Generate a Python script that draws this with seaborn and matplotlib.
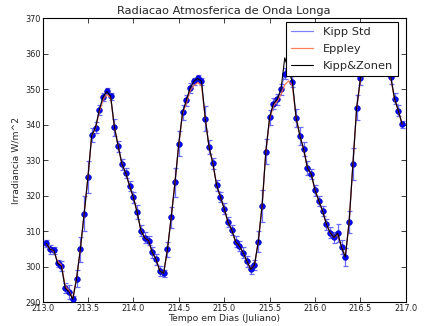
import numpy as np
import pandas as pd
import matplotlib
matplotlib.use("Agg")
import matplotlib.pyplot as plt
import seaborn as sns

# hourly samples (k = 1..95) from day 213
hours = list(range(1, 96))

kipp_std = [306.5, 304.8, 304.6, 300.9, 300.1, 293.9, 292.9, 290.8, 296.6, 304.9,
            314.9, 325.1, 337.0, 339.1, 344.1, 347.8, 349.5, 348.0, 339.2, 333.9,
            328.8, 326.3, 322.7, 319.5, 315.3, 310.1, 308.1, 307.3, 304.0, 302.0,
            298.7, 298.1, 304.8, 313.9, 323.7, 334.6, 343.4, 346.8, 350.3, 352.2,
            353.2, 352.2, 341.7, 333.6, 329.1, 322.9, 319.6, 316.3, 312.5, 310.3,
            307.0, 305.8, 303.9, 301.5, 299.2, 300.4, 307.0, 317.0, 332.4, 342.0,
            345.9, 347.1, 349.9, 354.3, 355.4, 352.1, 341.9, 336.8, 333.0, 327.7,
            326.1, 321.5, 318.5, 315.6, 311.9, 309.5, 308.2, 309.4, 305.4, 302.7,
            312.5, 328.8, 344.8, 353.0, 358.0, 361.5, 363.5, 364.0, 363.0, 361.0,
            357.5, 353.5, 347.3, 343.9, 340.1]

eppley = [306.3, 305.0, 304.2, 301.5, 300.4, 294.5, 293.2, 291.0, 296.8, 304.9,
          314.9, 325.1, 336.8, 338.9, 343.6, 347.0, 348.5, 347.5, 339.2, 333.9,
          328.8, 326.3, 322.7, 319.5, 315.3, 310.1, 308.1, 307.3, 304.0, 302.0,
          298.7, 298.1, 304.8, 313.9, 323.7, 334.4, 343.0, 346.0, 349.5, 351.0,
          351.8, 351.0, 341.7, 333.6, 329.1, 322.9, 319.6, 316.3, 312.5, 310.3,
          307.0, 305.8, 303.9, 301.5, 299.2, 300.4, 307.0, 317.0, 332.2, 341.5,
          345.2, 346.6, 348.5, 351.2, 352.3, 351.0, 341.9, 336.8, 333.0, 327.7,
          326.1, 321.5, 318.5, 315.6, 311.9, 309.5, 308.2, 309.0, 305.4, 302.9,
          312.5, 328.8, 344.6, 352.5, 357.5, 361.0, 363.0, 363.5, 362.5, 360.5,
          357.0, 353.0, 347.0, 343.9, 340.1]

kipp_zonen = [306.5, 304.8, 304.6, 300.9, 300.1, 293.9, 292.9, 290.8, 296.6, 304.9,
              314.9, 325.1, 337.0, 339.1, 344.1, 347.8, 349.3, 348.0, 339.2, 333.9,
              328.8, 326.3, 322.7, 319.5, 315.3, 310.1, 308.1, 307.3, 304.0, 302.0,
              298.7, 298.1, 304.8, 313.9, 323.7, 334.6, 343.4, 346.8, 350.3, 352.2,
              353.0, 352.2, 341.7, 333.6, 329.1, 322.9, 319.6, 316.3, 312.5, 310.3,
              307.0, 305.8, 303.9, 301.5, 299.2, 300.4, 307.0, 317.0, 332.4, 342.0,
              345.9, 347.1, 349.9, 358.8, 355.4, 352.1, 341.9, 336.8, 333.0, 327.7,
              326.1, 321.5, 318.5, 315.6, 311.9, 309.5, 308.2, 309.4, 305.4, 302.7,
              312.5, 328.8, 344.8, 353.0, 358.0, 361.5, 363.5, 364.0, 363.0, 361.0,
              357.5, 353.5, 347.3, 343.9, 340.1]

errors = [1.0, 1.2, 1.0, 1.0, 1.5, 1.5, 2.0, 1.0, 2.5, 3.5,
          5.0, 4.5, 2.0, 1.5, 1.5, 1.2, 0.8,
          1.0, 2.5, 1.5, 1.5, 1.5, 1.5, 1.5, 2.0, 1.5, 1.5, 1.2, 1.5, 1.5, 1.5, 1.0, 2.0,
          3.0, 4.0, 3.5, 2.0, 1.5, 1.5, 1.0, 0.8, 1.0, 3.5, 2.0, 1.5, 1.5, 1.5, 1.5,
          1.5, 1.5, 1.5, 1.5, 1.5, 1.5, 1.2, 1.5, 3.0, 4.5, 3.5, 2.0, 1.5, 1.5, 1.5, 1.5,
          1.2, 1.5, 2.5, 2.5, 2.0, 2.0, 1.5, 1.5, 1.5, 1.5, 1.5, 1.5, 1.5, 2.5, 2.0, 2.5,
          3.0, 4.5, 3.5, 2.0, 1.5, 1.0, 1.0, 1.0, 1.0, 1.5, 2.0, 2.0, 1.5, 1.5, 1.0]

title = "Radiacao Atmosferica de Onda Longa"
xlabel = "Tempo em Dias (Juliano)"
ylabel = "Irradiancia W/m^2"
xticks = [213.0, 213.5, 214.0, 214.5, 215.0, 215.5, 216.0, 216.5, 217.0]
yticks = [290, 300, 310, 320, 330, 340, 350, 360, 370]

t = [213.0 + h / 24.0 for h in hours]
df = pd.DataFrame({"t": t, "kipp": kipp_std, "eppley": eppley,
                   "kz": kipp_zonen, "err": errors})

sns.set_style("ticks")
plt.rcParams["font.family"] = ["DejaVu Sans"]
plt.rcParams["xtick.direction"] = "in"
plt.rcParams["ytick.direction"] = "in"
plt.rcParams["xtick.top"] = True
plt.rcParams["ytick.right"] = True

fig = plt.figure(figsize=(4.26, 3.26), dpi=100)
ax = fig.add_axes([0.0998, 0.0736, 0.853, 0.871])

ax.errorbar(df["t"], df["kipp"], yerr=df["err"], fmt="none",
            ecolor=(0.42, 0.42, 1.0), elinewidth=0.9, capsize=1.8,
            capthick=0.9, zorder=2)
ax.plot(df["t"], df["kipp"], "o", color="#0000ff", markersize=4.1,
        markeredgewidth=0.4, markeredgecolor="#0000aa", zorder=3)

sns.lineplot(data=df, x="t", y="kipp", color="#0000ff", alpha=0.5,
             linewidth=0.9, label="Kipp Std", ax=ax, zorder=4)
sns.lineplot(data=df, x="t", y="eppley", color="#ff6a3d", alpha=0.85,
             linewidth=0.9, label="Eppley", ax=ax, zorder=4)
sns.lineplot(data=df, x="t", y="kz", color="black",
             linewidth=0.8, label="Kipp&Zonen", ax=ax, zorder=5)

ax.set_xlim(213.0, 217.0)
ax.set_ylim(290, 370)
ax.set_xticks(xticks)
ax.set_xticklabels([f"{v:.1f}" for v in xticks])
ax.set_yticks(yticks)
ax.set_yticklabels([str(v) for v in yticks])
ax.tick_params(labelsize=5.9, length=3.5, width=0.6, pad=1.5, colors="#222222")
for s in ax.spines.values():
    s.set_linewidth(0.8)
    s.set_color("black")

ax.set_title(title, fontsize=8.2, pad=3)
ax.set_xlabel(xlabel, fontsize=6.7, labelpad=0.5)
ax.set_ylabel(ylabel, fontsize=6.7, labelpad=3)

leg = ax.legend(loc="upper right", bbox_to_anchor=(0.978, 0.986),
                fontsize=8.2, frameon=True, fancybox=False,
                framealpha=1, edgecolor="black", borderaxespad=0.0,
                handlelength=1.9, handletextpad=0.9, labelspacing=0.62,
                borderpad=0.42)
leg.get_frame().set_linewidth(0.8)

fig.savefig("out.png", dpi=100, facecolor="white")
